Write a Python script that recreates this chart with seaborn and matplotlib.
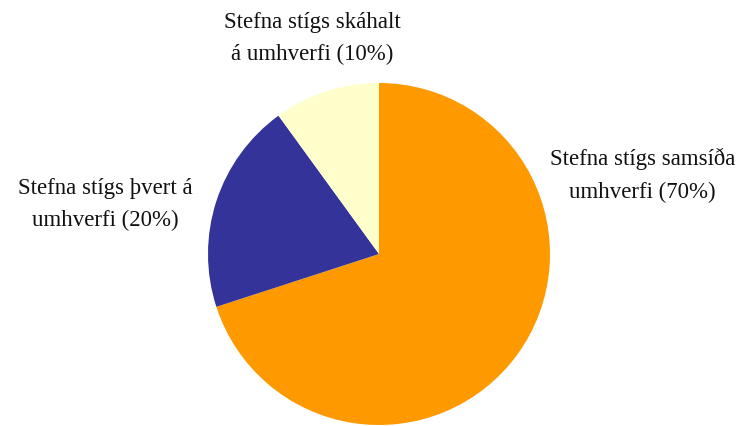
import matplotlib
matplotlib.use("Agg")
import matplotlib.pyplot as plt
import seaborn as sns

# -------------------- Data --------------------
labels = ["Stefna stígs samsíða\numhverfi (70%)",
          "Stefna stígs þvert á\numhverfi (20%)",
          "Stefna stígs skáhalt\ná umhverfi (10%)"]
shares = [70, 20, 10]
colors = ["#FF9900", "#333399", "#FFFFCC"]

# -------------------- Style --------------------
sns.set_theme(style="white")
plt.rcParams["font.family"] = ["Liberation Serif", "DejaVu Serif"]

W, H = 749, 426
fig = plt.figure(figsize=(W / 100, H / 100), dpi=100)
cx, cy, r = 379, 254, 171
ax = fig.add_axes([(cx - r) / W, (H - cy - r) / H, 2 * r / W, 2 * r / H])

wedges, _ = ax.pie(shares, colors=colors, startangle=90, counterclock=False,
                   radius=1, wedgeprops=dict(linewidth=0))
ax.set_xlim(-1, 1)
ax.set_ylim(-1, 1)
ax.set_aspect("equal")
ax.axis("off")

# label positions (data coords relative to pie centre)
label_pos = [(1.54, 0.46), (-1.60, 0.29), (-0.39, 1.26)]
for txt, (x, y) in zip(labels, label_pos):
    ax.text(x, y, txt, ha="center", va="center", fontsize=16.5,
            color="#111111", linespacing=1.7, clip_on=False)

plt.savefig("out.png", dpi=100)
plt.close()
